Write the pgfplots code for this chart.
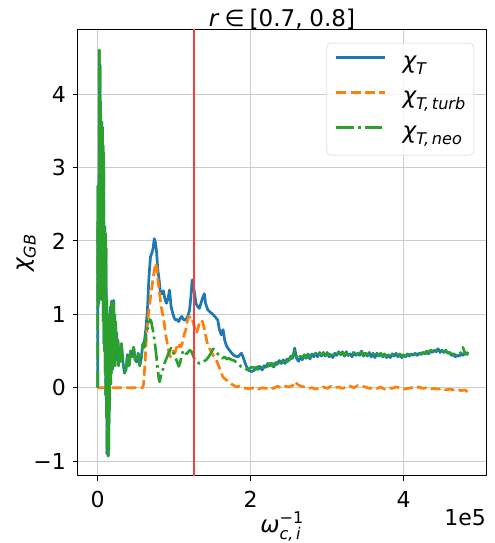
\documentclass[border=0pt]{standalone}
\usepackage{fontspec}
\setmainfont{DejaVu Sans}
\usepackage{amsmath}
\usepackage{pgfplots}
\usepackage{pgfplotstable}
\pgfplotsset{compat=1.18}
\definecolor{tabblue}{HTML}{1F77B4}
\definecolor{taborange}{HTML}{FF7F0E}
\definecolor{tabgreen}{HTML}{2CA02C}
\definecolor{vline}{RGB}{250,60,60}
\definecolor{gridgray}{RGB}{204,204,204}
\newcommand\tickfont{\fontsize{22bp}{26bp}\selectfont}
\newcommand\labfont{\fontsize{23bp}{28bp}\selectfont}

% chi_T = chi_neo while chi_turb is zero
\pgfplotstableread{
x y
0 0
300 2.75
600 1.1
1000 2.7
1400 1.15
1800 2.5
2200 4.6
2600 1.3
3000 4.4
3400 1.6
3800 3.9
4200 1.4
4600 3.6
5000 1.2
5400 3.62
5800 1.5
6200 3.55
6600 1.2
7000 3.3
7400 0.9
7800 3.2
8200 0.6
8600 2.15
9000 0.5
9400 2.2
9800 0.2
10200 2.1
10600 -0.1
11000 1.9
11400 -0.4
11800 1.2
12200 -0.9
12600 0.9
13000 -0.8
13400 1.0
13800 -0.93
14200 0.8
14600 -0.85
15000 0.7
15400 -0.3
15800 1.0
16200 0.1
16600 1.1
17000 0.05
17400 0.9
17800 0.2
18200 1.18
18600 0.3
19000 0.9
19400 0.25
19800 1.05
20400 0.3
21000 1.19
21600 0.5
22200 1.0
22800 0.3
23400 0.9
24000 0.5
24800 0.75
25600 0.4
26400 0.65
27200 0.3
28000 0.55
29000 0.35
31000 0.6
33000 0.35
35000 0.2
37000 0.25
39000 0.45
41000 0.3
43000 0.5
45000 0.42
47000 0.55
49000 0.38
51000 0.35
53000 0.47
55000 0.3
57000 0.4
59000 0.6
}\early

\pgfplotstableread{
x y
59000 0.6
61000 0.62
63000 0.8
65000 1.05
67000 1.5
69000 1.78
71000 1.84
72500 1.9
74000 2.03
75500 1.98
77000 1.85
78500 1.62
80000 1.5
82000 1.3
84000 1.28
86000 1.32
88000 1.2
90000 1.15
92000 1.22
94000 1.33
96000 1.1
98000 1.02
100000 0.95
102000 0.92
104000 0.93
106000 0.9
108000 0.95
110000 0.97
112000 0.93
114000 0.92
116000 0.94
118000 0.98
120000 1.05
122000 1.25
123500 1.47
125000 1.38
126500 1.3
128500 1.15
131000 1.1
133000 1.08
135000 1.15
137000 1.22
139500 1.28
141000 1.15
144000 1.06
147000 1.03
150500 1.0
154000 0.96
157000 0.92
159000 0.8
161500 0.72
164000 0.79
166000 0.65
168000 0.58
170000 0.54
173000 0.5
177000 0.45
180000 0.43
183500 0.42
186000 0.45
188000 0.47
190000 0.42
192000 0.36
194000 0.3
197000 0.24
201000 0.22
205000 0.24
207500 0.28
210000 0.25
212500 0.29
215000 0.24
217500 0.30
220000 0.28
222500 0.33
225000 0.30
227500 0.33
230000 0.28
232500 0.34
235000 0.32
237500 0.37
240000 0.33
242500 0.38
245000 0.33
247500 0.39
250000 0.37
252500 0.43
255000 0.40
257500 0.54
260000 0.40
262500 0.36
265000 0.42
267500 0.38
270000 0.45
272500 0.40
275000 0.44
277500 0.39
280000 0.46
282500 0.42
285000 0.47
287500 0.42
290000 0.48
292500 0.43
295000 0.47
297500 0.43
300000 0.48
302500 0.42
305000 0.45
307500 0.41
310000 0.47
312500 0.44
315000 0.49
317500 0.45
320000 0.48
322500 0.43
325000 0.49
327500 0.44
330000 0.46
332500 0.42
335000 0.48
337500 0.44
340000 0.47
342500 0.44
345000 0.50
347500 0.43
350000 0.47
352500 0.43
355000 0.48
357500 0.42
360000 0.46
362500 0.41
365000 0.47
367500 0.43
370000 0.46
372500 0.42
375000 0.46
377500 0.41
380000 0.44
382500 0.41
385000 0.46
387500 0.43
390000 0.47
392500 0.42
395000 0.45
397500 0.41
400000 0.44
402500 0.42
405000 0.46
407500 0.43
410000 0.46
412500 0.44
415000 0.47
417500 0.44
420000 0.47
422500 0.45
425000 0.48
427500 0.46
430000 0.48
432500 0.46
435000 0.50
437500 0.48
440000 0.51
442500 0.49
445000 0.53
447500 0.48
450000 0.51
452500 0.48
455000 0.51
457500 0.47
460000 0.48
462500 0.44
465000 0.45
467500 0.42
470000 0.44
472500 0.43
475000 0.46
477500 0.44
480000 0.47
482500 0.45
484000 0.47
}\total

\pgfplotstableread{
x y
0 0
59000 0
60000 0.05
62000 0.35
64000 0.75
66000 0.95
68000 1.15
70000 1.3
72000 1.45
74000 1.6
76000 1.7
77500 1.62
79000 1.45
81000 1.28
83000 1.1
85000 1.0
87000 0.88
89000 0.72
91000 0.6
93000 0.48
95000 0.42
97000 0.45
99000 0.5
101000 0.47
103000 0.55
105000 0.52
107000 0.58
109000 0.56
111000 0.62
113000 0.72
115000 0.78
117000 0.9
119000 0.97
121000 0.96
123000 0.97
125000 0.88
127000 0.8
129000 0.74
131000 0.8
133000 0.88
135000 0.92
137000 0.9
139000 0.82
141000 0.72
143000 0.62
145000 0.56
148000 0.5
151000 0.44
154000 0.4
157000 0.33
160000 0.25
163000 0.16
166000 0.12
169000 0.1
172000 0.08
175000 0.05
178000 0.03
181000 0.01
185000 0.02
190000 0.0
195000 -0.01
200000 -0.01
205000 0.0
210000 -0.02
215000 0.0
220000 -0.01
225000 0.01
230000 -0.01
235000 0.02
240000 0.0
245000 0.02
250000 0.01
255000 0.03
258000 0.08
262000 0.04
266000 0.02
270000 0.01
275000 -0.01
280000 0.0
285000 -0.02
290000 0.0
295000 0.01
300000 -0.01
305000 0.02
310000 0.0
315000 0.01
320000 -0.01
325000 0.01
330000 0.02
335000 0.0
340000 0.03
345000 0.02
350000 0.01
355000 -0.01
360000 0.0
365000 -0.01
370000 0.01
375000 -0.02
380000 0.0
385000 -0.01
390000 0.01
395000 0.0
400000 -0.02
405000 -0.01
410000 0.0
415000 -0.01
420000 0.01
425000 -0.01
430000 0.0
435000 -0.02
440000 -0.01
445000 -0.02
450000 -0.01
455000 -0.03
460000 -0.02
465000 -0.03
470000 -0.02
475000 -0.04
480000 -0.03
484000 -0.06
}\turb

\pgfplotstableread{
x y
59000 0.6
61000 0.55
63000 0.7
65000 0.8
67000 0.88
68500 0.93
70000 0.9
71500 0.82
73000 0.74
74500 0.62
76000 0.5
77000 0.4
78500 0.25
80000 0.12
81000 0.08
82500 0.15
84000 0.2
86000 0.28
88000 0.35
90000 0.4
92000 0.45
94000 0.5
96000 0.54
98000 0.5
100000 0.45
102000 0.4
104000 0.35
106000 0.29
108000 0.35
110000 0.45
112000 0.51
114000 0.48
116000 0.46
118000 0.48
120000 0.51
122000 0.5
124000 0.46
126000 0.4
128000 0.36
130000 0.35
133000 0.33
136000 0.34
139000 0.36
142000 0.38
145000 0.42
148000 0.47
151000 0.53
154000 0.5
157000 0.46
160000 0.42
163000 0.4
166000 0.42
169000 0.39
172000 0.4
175000 0.38
178000 0.37
181000 0.35
184000 0.33
187000 0.29
190000 0.28
193000 0.26
196000 0.24
199000 0.27
202000 0.28
205000 0.27
207500 0.25
210000 0.29
212500 0.26
215000 0.28
217500 0.27
220000 0.31
222500 0.29
225000 0.33
227500 0.30
230000 0.33
232500 0.31
235000 0.35
237500 0.33
240000 0.36
242500 0.34
245000 0.38
247500 0.35
250000 0.40
252500 0.39
255000 0.44
257500 0.50
260000 0.43
262500 0.39
265000 0.43
267500 0.41
270000 0.44
272500 0.42
275000 0.46
277500 0.42
280000 0.45
282500 0.44
285000 0.47
287500 0.43
290000 0.46
292500 0.45
295000 0.48
297500 0.44
300000 0.46
302500 0.44
305000 0.47
307500 0.43
310000 0.48
312500 0.45
315000 0.47
317500 0.46
320000 0.49
322500 0.45
325000 0.47
327500 0.44
330000 0.47
332500 0.45
335000 0.49
337500 0.45
340000 0.46
342500 0.47
345000 0.49
347500 0.45
350000 0.47
352500 0.44
355000 0.46
357500 0.44
360000 0.47
362500 0.43
365000 0.45
367500 0.44
370000 0.47
372500 0.43
375000 0.45
377500 0.43
380000 0.45
382500 0.42
385000 0.46
387500 0.44
390000 0.45
392500 0.43
395000 0.46
397500 0.43
400000 0.45
402500 0.43
405000 0.45
407500 0.44
410000 0.47
412500 0.45
415000 0.46
417500 0.45
420000 0.48
422500 0.46
425000 0.48
427500 0.47
430000 0.50
432500 0.48
435000 0.51
437500 0.50
440000 0.54
442500 0.51
445000 0.52
447500 0.50
450000 0.51
452500 0.49
455000 0.50
457500 0.47
460000 0.48
462500 0.46
465000 0.46
467500 0.45
470000 0.47
472500 0.46
475000 0.48
477500 0.55
480000 0.47
482500 0.46
484000 0.49
}\neo

\begin{document}
\begin{tikzpicture}
\begin{axis}[
  at={(0,0)}, anchor=south west,
  scale only axis, width=408bp, height=446bp,
  xmin=-25700, xmax=507600, ymin=-1.203, ymax=4.873,
  xtick={0,200000,400000}, xticklabels={0,2,4},
  ytick={-1,0,1,2,3,4}, yticklabels={−1,0,1,2,3,4},
  scaled x ticks=false,
  tick pos=left, tick align=outside,
  major tick length=5bp,
  tick style={black, line width=1bp},
  grid=major, grid style={gridgray, line width=1bp},
  axis line style={black, line width=1bp},
  ticklabel style={font=\tickfont},
  /pgf/number format/assume math mode=true,
  xticklabel style={anchor=base, yshift=-26bp},
  yticklabel style={anchor=east, inner xsep=0pt, xshift=-7bp},
  legend cell align=left,
  legend style={at={(1,1)}, anchor=north east, xshift=-12bp, yshift=-13bp,
    draw=black!20, rounded corners=4bp, fill=white, fill opacity=0.8,
    text opacity=1, font=\labfont, inner xsep=8bp, inner ysep=8.5bp,
    row sep=10bp,
    nodes={inner xsep=0pt, inner ysep=0pt, text height=17bp, text depth=8bp},
    /tikz/every odd column/.append style={column sep=16bp}},
  legend image code/.code={\draw[#1] (0bp,7bp) -- (49bp,7bp);},
  line join=round,
]
\addplot[tabblue, line width=2.7bp, forget plot] table {\early};
\addplot[tabblue, line width=2.7bp] table {\total};
\addlegendentry{$\text{\itshape χ}_{\text{\itshape T}}$}
\addplot[taborange, line width=2.7bp, dash pattern=on 10bp off 4.3bp] table {\turb};
\addlegendentry{$\text{\itshape χ}_{\text{\itshape T,\,turb}}$}
\addplot[tabgreen, line width=2.7bp, forget plot,
  dash pattern=on 17.3bp off 4.3bp on 2.7bp off 4.3bp] table {\early};
\addplot[tabgreen, line width=2.7bp,
  dash pattern=on 17.3bp off 4.3bp on 2.7bp off 4.3bp] table {\neo};
\addlegendentry{$\text{\itshape χ}_{\text{\itshape T,\,neo}}$}
\addplot[vline, line width=1.5bp, forget plot] coordinates {(126000,-2) (126000,6)};
\end{axis}
\node[font=\labfont, anchor=base] at (204bp,449.3bp)
  {\textit{r}\hspace{0.22em}∈\hspace{0.22em}[0.7,\hspace{0.3em}0.8]};
\node[font=\labfont, anchor=base] at (204bp,-56bp)
  {$\text{\itshape ω}^{\text{−1}}_{\text{\itshape c,\,i}}$};
\node[font=\tickfont, anchor=base east, inner sep=0pt] at (408bp,-49bp) {1e5};
\node[font=\labfont, anchor=base, rotate=90] at (-48bp,223bp)
  {$\text{\itshape χ}_{\text{\itshape GB}}$};
\pgfresetboundingbox
\path[use as bounding box] (-78bp,-67bp) rectangle (417bp,476bp);
\end{tikzpicture}
\end{document}
